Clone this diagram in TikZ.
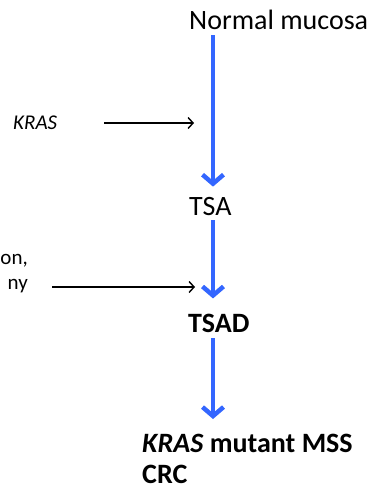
\documentclass[tikz,border=0pt]{standalone}
\usepackage{fontspec}
\setmainfont{Carlito}
\usetikzlibrary{arrows.meta}

\tikzset{
  stage/.style={inner sep=0pt, font=\fontsize{28}{31}\selectfont},
  side/.style={inner sep=0pt, font=\fontsize{21}{25}\selectfont},
  flow/.style={line width=4.5pt, color=flowblue, -{Straight Barb[length=9pt,width=21pt]}},
  hint/.style={line width=1.4pt, -{Straight Barb[length=5pt,width=11pt]}}
}
\definecolor{flowblue}{RGB}{51,102,255}

\begin{document}
\begin{tikzpicture}[x=1pt,y=-1pt]
\useasboundingbox (0,0) rectangle (374,497);
% stages
\node[stage,anchor=base west] (nm) at (189,30) {Normal mucosa};
\node[stage,anchor=base west] (tsa) at (189,215) {TSA};
\node[stage,anchor=base west] (tsad) at (188,332) {\textbf{TSAD}};
\node[stage,anchor=north west,align=left] (crc) at (142,434) {\textbf{\textit{KRAS} mutant MSS}\\\textbf{CRC}};
% side labels
\node[side,anchor=base west] (kras) at (13,130) {\textit{KRAS}};
\node[side,anchor=north east,align=right] (meth) at (28,254) {on,\\ny};
\coordinate (axis) at (213,0);
\coordinate (k1) at (104,123);
\coordinate (k2) at (194,123);
\coordinate (m1) at (52,287);
\coordinate (m2) at (195,287);
% arrows
\draw[flow] ([yshift=-5pt]nm.south -| axis) -- ([yshift=10pt]tsa.north -| axis);
\draw[flow] ([yshift=-5pt]tsa.south -| axis) -- ([yshift=15pt]tsad.north -| axis);
\draw[flow] ([yshift=-6pt]tsad.south -| axis) -- ([yshift=15pt]crc.north -| axis);
\draw[hint] (k1) -- (k2);
\draw[hint] (m1) -- (m2);
\end{tikzpicture}
\end{document}
